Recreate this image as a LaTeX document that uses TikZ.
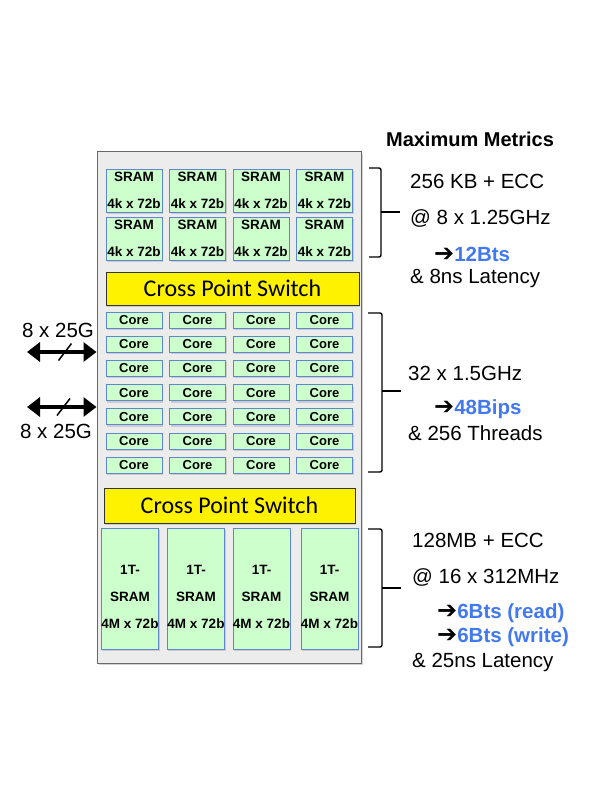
\documentclass[tikz,border=0pt]{standalone}
\usepackage{fontspec}
\setmainfont{Liberation Sans}
\newfontfamily\calibri{Carlito}
\newfontfamily\dingfont{DejaVu Sans}
\usetikzlibrary{arrows.meta,shadows}

\definecolor{cellgreen}{RGB}{204,255,204}
\definecolor{cellborder}{RGB}{95,135,205}
\definecolor{chipgray}{RGB}{236,236,236}
\definecolor{chipborder}{RGB}{105,105,105}
\definecolor{metricblue}{RGB}{66,120,240}

\tikzset{
    cell/.style={
        draw=cellborder,
        fill=cellgreen,
        line width=.8pt,
        inner sep=0pt,
        align=center,
        font=\fontsize{13.5}{27}\selectfont\bfseries,
        drop shadow={shadow xshift=1pt,shadow yshift=-2pt,opacity=.3}
    },
    sram/.style={cell, minimum width=56pt, minimum height=43pt},
    core/.style={cell, minimum width=56pt, minimum height=16pt,
        font=\fontsize{13}{14}\selectfont\bfseries},
    tsram/.style={cell, minimum width=56pt, minimum height=121pt},
    xbar/.style={
        draw=black!80,
        fill=yellow,
        line width=.8pt,
        inner sep=0pt,
        font=\calibri\fontsize{24}{26}\selectfont,
        drop shadow={shadow xshift=1pt,shadow yshift=-2pt,opacity=.3}
    },
    metric/.style={anchor=west, inner sep=0pt, font=\fontsize{20.5}{22}\selectfont},
    brace/.style={line width=1.4pt, rounded corners=2pt},
    link/.style={line width=4pt, {Triangle[length=13pt,width=19pt]}-{Triangle[length=13pt,width=19pt]}},
    slash/.style={line width=1.5pt}
}
\newcommand{\rate}[1]{{\dingfont\fontsize{24}{22}\selectfont ➔}\textcolor{metricblue}{\bfseries #1}}

\begin{document}
\begin{tikzpicture}[x=1pt,y=-1pt]
\useasboundingbox (0,0) rectangle (598,810);
		% chip outline
		\node[draw=chipborder, fill=chipgray, line width=1pt, inner sep=0pt,
			minimum width=264pt, minimum height=511pt,
			drop shadow={shadow xshift=2pt,shadow yshift=-2pt,opacity=.35}]
			at (229,407.5) (chip) {};
		% SRAM banks
		\path 	(134,190.5)
					node[sram](s1){SRAM\\4k x 72b}
			++(63.5,0) node[sram](s2){SRAM\\4k x 72b}
			++(63.5,0) node[sram](s3){SRAM\\4k x 72b}
			++(63.5,0) node[sram](s4){SRAM\\4k x 72b};
		\path 	(134,238.5)
					node[sram](s5){SRAM\\4k x 72b}
			++(63.5,0) node[sram](s6){SRAM\\4k x 72b}
			++(63.5,0) node[sram](s7){SRAM\\4k x 72b}
			++(63.5,0) node[sram](s8){SRAM\\4k x 72b};
		\path
			node[xbar, minimum width=253pt, minimum height=33pt] at (232.5,288.5) (xbar1) {Cross Point Switch}
			node[xbar, minimum width=251pt, minimum height=35pt] at (229.5,505.5) (xbar2) {Cross Point Switch}
			;
		% cores
		\path 	(134,320)
					node[core](c11){Core}
			++(63.5,0) node[core](c12){Core}
			++(63.5,0) node[core](c13){Core}
			++(63.5,0) node[core](c14){Core};
		\path 	(134,344.2)
					node[core](c21){Core}
			++(63.5,0) node[core](c22){Core}
			++(63.5,0) node[core](c23){Core}
			++(63.5,0) node[core](c24){Core};
		\path 	(134,368.4)
					node[core](c31){Core}
			++(63.5,0) node[core](c32){Core}
			++(63.5,0) node[core](c33){Core}
			++(63.5,0) node[core](c34){Core};
		\path 	(134,392.6)
					node[core](c41){Core}
			++(63.5,0) node[core](c42){Core}
			++(63.5,0) node[core](c43){Core}
			++(63.5,0) node[core](c44){Core};
		\path 	(134,416.8)
					node[core](c51){Core}
			++(63.5,0) node[core](c52){Core}
			++(63.5,0) node[core](c53){Core}
			++(63.5,0) node[core](c54){Core};
		\path 	(134,441)
					node[core](c61){Core}
			++(63.5,0) node[core](c62){Core}
			++(63.5,0) node[core](c63){Core}
			++(63.5,0) node[core](c64){Core};
		\path 	(134,465.2)
					node[core](c71){Core}
			++(63.5,0) node[core](c72){Core}
			++(63.5,0) node[core](c73){Core}
			++(63.5,0) node[core](c74){Core};
		% 1T-SRAM banks
		\path
			node[tsram] at (130,588.5) (t1) {\rule{0pt}{27pt}1T-\\SRAM\\4M x 72b}
			node[tsram] at (196,588.5) (t2) {\rule{0pt}{27pt}1T-\\SRAM\\4M x 72b}
			node[tsram] at (261.5,588.5) (t3) {\rule{0pt}{27pt}1T-\\SRAM\\4M x 72b}
			node[tsram] at (329.5,588.5) (t4) {\rule{0pt}{27pt}1T-\\SRAM\\4M x 72b}
			;
		% serdes links
		\coordinate (io1) at (27,352);
		\coordinate (io2) at (27,407);
		\path
			node[font=\fontsize{20.5}{22}\selectfont] at (58,330) (lk1) {8 x 25G}
			node[font=\fontsize{20.5}{22}\selectfont] at (56,431) (lk2) {8 x 25G}
			;
		\draw[link] (io1) -- (io1 -| chip.west);
		\draw[link] (io2) -- (io2 -| chip.west);
		\draw[slash] (65,352) +(-6.5,8.5) -- +(6.5,-8.5);
		\draw[slash] (63.5,407) +(-6.5,8.5) -- +(6.5,-8.5);
		% metrics
		\node[font=\fontsize{20}{22}\selectfont\bfseries] at (470,139) (title) {Maximum Metrics};
		\draw[brace] (369,168) -- (381,168) -- (381,257) -- (369,257);
		\draw[brace] (381,212) -- (400,212);
		\draw[brace] (368,313) -- (382,313) -- (382,472) -- (368,472);
		\draw[brace] (382,391) -- (401,391);
		\draw[brace] (368,529) -- (382,529) -- (382,647) -- (368,647);
		\draw[brace] (382,588) -- (401,588);
		\path
			node[metric] at (410,181) (m1) {256 KB + ECC}
			node[metric] at (410,218) (m2) {@ 8 x 1.25GHz}
			node[metric] at (434,254) (m3) {\rate{12Bts}}
			node[metric] at (410,278) (m4) {\& 8ns Latency}
			node[metric] at (408,373) (m5) {32 x 1.5GHz}
			node[metric] at (434,409) (m6) {\rate{48Bips}}
			node[metric] at (408,433) (m7) {\& 256 Threads}
			node[metric] at (412,540) (m8) {128MB + ECC}
			node[metric] at (412,577) (m9) {@ 16 x 312MHz}
			node[metric] at (437,613) (m10) {\rate{6Bts (read)}}
			node[metric] at (437,637) (m11) {\rate{6Bts (write)}}
			node[metric] at (412,662) (m12) {\& 25ns Latency}
			;
\end{tikzpicture}
\end{document}
